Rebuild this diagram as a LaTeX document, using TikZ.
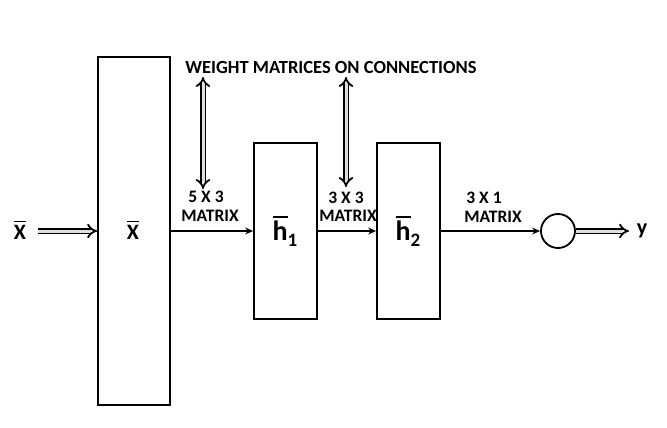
\documentclass[tikz,border=0pt]{standalone}
\usepackage{fontspec}
\setmainfont{Carlito}
\usetikzlibrary{arrows.meta}
\newcommand\barred[1]{\setbox0\hbox{#1}\vbox{\hrule height 1.8pt width \wd0 \kern 2.4pt \box0}}
\begin{document}
\begin{tikzpicture}[x=1pt,y=-1pt,
  lbl/.style={font=\bfseries\fontsize{17.5}{20}\selectfont, inner sep=0pt},
  bx/.style={draw, line width=1.8pt, inner sep=0pt},
  thin/.style={line width=1.1pt, -{Stealth[length=8pt,width=7pt]}},
  dbl/.style={line width=1.8pt, double=gray!25, double distance=3pt, -{Implies[length=9pt,width=14pt]}},
  dbl2/.style={line width=1.8pt, double=gray!25, double distance=3pt, {Implies[length=9pt,width=14pt]}-{Implies[length=9pt,width=14pt]}}]
\useasboundingbox (0,0) rectangle (667,428);
\node[bx, minimum width=72pt, minimum height=348pt] (bigbox) at (134,231) {};
\node[bx, minimum width=63pt, minimum height=176pt] (h1box) at (285.5,231) {};
\node[bx, minimum width=63pt, minimum height=176pt] (h2box) at (408.5,231) {};
\node[draw, circle, line width=1.8pt, minimum size=34pt, inner sep=0pt] (circ) at (558,231) {};
\node[font=\bfseries\fontsize{22}{24}\selectfont, inner sep=0pt, anchor=base] (xin) at (20,239) {\barred{X}};
\node[font=\bfseries\fontsize{22}{24}\selectfont, inner sep=0pt, anchor=base] (xbox) at (133,239) {\barred{X}};
\node[font=\bfseries\fontsize{28}{30}\selectfont, inner sep=0pt, anchor=base] (h1) at (285,240) {\barred{h}\raisebox{-6pt}{\fontsize{19}{22}\selectfont 1}};
\node[font=\bfseries\fontsize{28}{30}\selectfont, inner sep=0pt, anchor=base] (h2) at (408,240) {\barred{h}\raisebox{-6pt}{\fontsize{19}{22}\selectfont 2}};
\node[font=\bfseries\fontsize{22}{24}\selectfont, inner sep=0pt, anchor=base] (yout) at (642,234) {y};
\node[font=\bfseries\fontsize{18.5}{20}\selectfont, inner sep=0pt] (title) at (331,67) {WEIGHT MATRICES ON CONNECTIONS};
\node[lbl] (l1a) at (206,197) {5 X 3};
\node[lbl] (l1b) at (210,216) {MATRIX};
\node[lbl] (l2a) at (346,198) {3 X 3};
\node[lbl] (l2b) at (348,216) {MATRIX};
\node[lbl] (l3a) at (484,198) {3 X 1};
\node[lbl] (l3b) at (493,217) {MATRIX};
\coordinate (v1t) at (203,77);
\coordinate (v1b) at (203,189);
\coordinate (v2t) at (346,77);
\coordinate (v2b) at (346,187);
\coordinate (xstart) at (38,231);
\coordinate (yend) at (629,231);
\draw[thin] (bigbox.east) -- (h1box.west);
\draw[thin] (h1box.east) -- (h2box.west);
\draw[thin] (h2box.east) -- (circ.west);
\draw[dbl] (xstart) -- (bigbox.west);
\draw[dbl] (circ.east) -- (yend);
\draw[dbl2] (v1t) -- (v1b);
\draw[dbl2] (v2t) -- (v2b);
\end{tikzpicture}
\end{document}
